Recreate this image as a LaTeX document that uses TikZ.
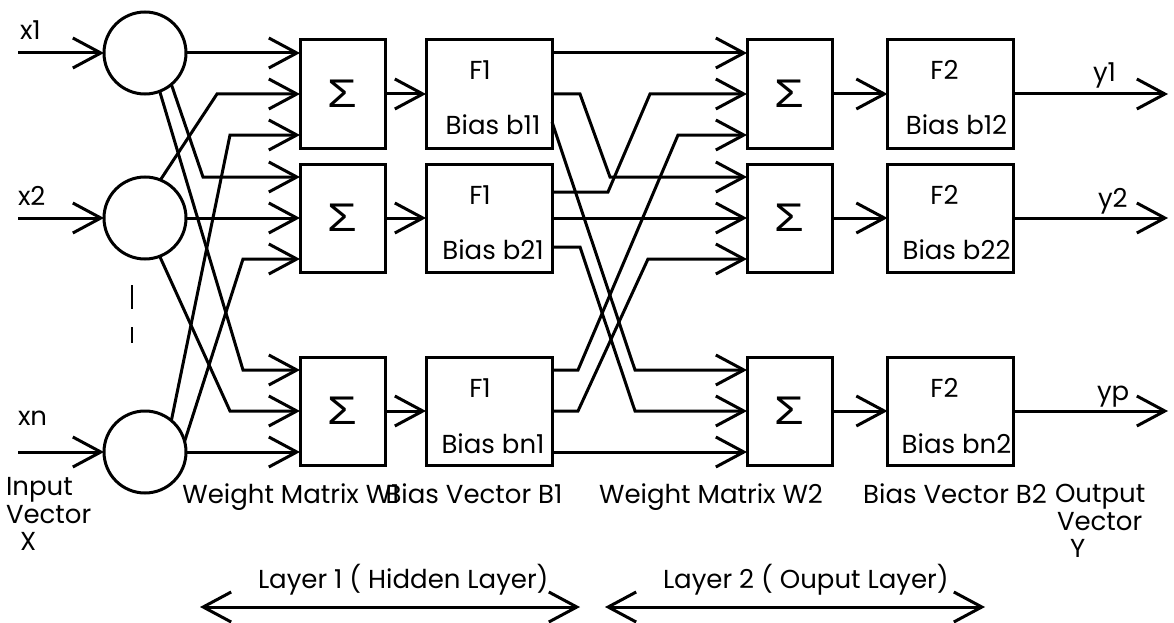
\documentclass[tikz,border=0pt]{standalone}
\usepackage{fontspec}
\setmainfont{Poppins}
\newfontfamily\sigmafont[FakeStretch=1.2]{Liberation Sans}
\usetikzlibrary{arrows.meta}
\begin{document}
\begin{tikzpicture}[x=1pt,y=-1pt,
  line width=3pt,
  every node/.style={inner sep=0pt, outer sep=0pt},
  txt/.style={font=\fontsize{26}{30}\selectfont},
  neuron/.style={draw, circle, minimum size=82pt},
  sumbox/.style={draw, rectangle, minimum width=85pt, minimum height=108pt, font=\sigmafont\fontsize{40}{40}\selectfont},
  fnbox/.style={draw, rectangle, minimum width=126pt, minimum height=108pt},
  arr/.style={-{Straight Barb[length=28pt,width=30pt,line width=3pt]}},
  darr/.style={{Straight Barb[length=28pt,width=30pt,line width=3pt]}-{Straight Barb[length=28pt,width=30pt,line width=3pt]}}
]
\useasboundingbox (0,0) rectangle (1174,623);

% input neurons
\node[neuron] (c1) at (145,53) {};
\node[neuron] (c2) at (145,218) {};
\node[neuron] (c3) at (145,452) {};

% layer 1
\node[sumbox] (s11) at (342.5,94) {Σ};
\node[sumbox] (s12) at (342.5,218) {Σ};
\node[sumbox] (s13) at (342.5,411) {Σ};
\node[fnbox] (f11) at (489,94) {};
\node[fnbox] (f12) at (489,218) {};
\node[fnbox] (f13) at (489,411) {};

% layer 2
\node[sumbox] (s21) at (789.5,94) {Σ};
\node[sumbox] (s22) at (789.5,218) {Σ};
\node[sumbox] (s23) at (789.5,411) {Σ};
\node[fnbox] (f21) at (950.5,94) {};
\node[fnbox] (f22) at (950.5,218) {};
\node[fnbox] (f23) at (950.5,411) {};

% box texts
\node[txt, anchor=base] (t11a) at ([xshift=-9pt,yshift=14pt]f11.center) {F1};
\node[txt, anchor=base] (t11b) at ([xshift=4pt,yshift=-41pt]f11.center) {Bias b11};
\node[txt, anchor=base] (t12a) at ([xshift=-9pt,yshift=14pt]f12.center) {F1};
\node[txt, anchor=base] (t12b) at ([xshift=4pt,yshift=-41pt]f12.center) {Bias b21};
\node[txt, anchor=base] (t13a) at ([xshift=-9pt,yshift=14pt]f13.center) {F1};
\node[txt, anchor=base] (t13b) at ([xshift=4pt,yshift=-42pt]f13.center) {Bias bn1};
\node[txt, anchor=base] (t21a) at ([xshift=-6pt,yshift=14pt]f21.center) {F2};
\node[txt, anchor=base] (t21b) at ([xshift=6pt,yshift=-41pt]f21.center) {Bias b12};
\node[txt, anchor=base] (t22a) at ([xshift=-6pt,yshift=14pt]f22.center) {F2};
\node[txt, anchor=base] (t22b) at ([xshift=6pt,yshift=-41pt]f22.center) {Bias b22};
\node[txt, anchor=base] (t23a) at ([xshift=-6pt,yshift=14pt]f23.center) {F2};
\node[txt, anchor=base] (t23b) at ([xshift=6pt,yshift=-42pt]f23.center) {Bias bn2};

% inputs
\coordinate (i1) at (18,53);
\coordinate (i2) at (18,218);
\coordinate (i3) at (18,452);
\draw[arr] (i1) -- (c1.west);
\draw[arr] (i2) -- (c2.west);
\draw[arr] (i3) -- (c3.west);
\node[txt, anchor=base west] (lx1) at (20,40) {x1};
\node[txt, anchor=base west] (lx2) at (18,205) {x2};
\node[txt, anchor=base west] (lxn) at (18,425) {xn};
\draw[line width=2.5pt] (132,285) -- (132,309);
\draw[line width=2.5pt] (132,327) -- (132,343);

% weights layer 1
\draw[arr] (c1.east) -- ([yshift=41pt]s11.west);
\draw[arr] (c1.-50) -- (203,177) -- ([yshift=41pt]s12.west);
\draw[arr] (c1.-69) -- (243,370) -- ([yshift=41pt]s13.west);
\draw[arr] (c2.68) -- (217,94) -- (s11.west);
\draw[arr] (c2.east) -- (s12.west);
\draw[arr] (c2.-69) -- (230,411) -- (s13.west);
\draw[arr] (c3.50) -- (230,135) -- ([yshift=-41pt]s11.west);
\draw[arr] (c3.15) -- (243,259) -- ([yshift=-41pt]s12.west);
\draw[arr] (c3.east) -- ([yshift=-41pt]s13.west);

\draw[arr] (s11) -- (f11);
\draw[arr] (s12) -- (f12);
\draw[arr] (s13) -- (f13);

% weights layer 2
\draw[arr] ([yshift=41pt]f11.east) -- ([yshift=41pt]s21.west);
\draw[arr] (f11.east) -- (580,94) -- (610,177) -- ([yshift=41pt]s22.west);
\draw[arr] ([yshift=-28pt]f11.east) -- (635,370) -- ([yshift=41pt]s23.west);
\draw[arr] ([yshift=26pt]f12.east) -- (608,192) -- (650,94) -- (s21.west);
\draw[arr] (f12.east) -- (s22.west);
\draw[arr] ([yshift=-29pt]f12.east) -- (580,247) -- (635,411) -- (s23.west);
\draw[arr] ([yshift=41pt]f13.east) -- (578,370) -- (678,135) -- ([yshift=-41pt]s21.west);
\draw[arr] (f13.east) -- (578,411) -- (648,259) -- ([yshift=-41pt]s22.west);
\draw[arr] ([yshift=-41pt]f13.east) -- ([yshift=-41pt]s23.west);

\draw[arr] (s21) -- (f21);
\draw[arr] (s22) -- (f22);
\draw[arr] (s23) -- (f23);

% outputs
\coordinate (o1) at (1168,94);
\coordinate (o2) at (1168,218);
\coordinate (o3) at (1168,411);
\draw[arr] (f21.east) -- (o1);
\draw[arr] (f22.east) -- (o2);
\draw[arr] (f23.east) -- (o3);
\node[txt, anchor=base west] (ly1) at (1093,82) {y1};
\node[txt, anchor=base west] (ly2) at (1098,207) {y2};
\node[txt, anchor=base west] (lyp) at (1097,400) {yp};

% bottom labels
\node[txt, anchor=base west] (lin1) at (6,495) {Input};
\node[txt, anchor=base west] (lin2) at (6,523) {Vector};
\node[txt, anchor=base west] (lin3) at (20,550) {X};
\node[txt, anchor=base] (lw1) at (291,503) {Weight Matrix W1};
\node[txt, anchor=base] (lb1) at (474,503) {Bias Vector B1};
\node[txt, anchor=base] (lw2) at (711,503) {Weight Matrix W2};
\node[txt, anchor=base] (lb2) at (955,503) {Bias Vector B2};
\node[txt, anchor=base west] (lout1) at (1055,502) {Output};
\node[txt, anchor=base west] (lout2) at (1057,530) {Vector};
\node[txt, anchor=base west] (lout3) at (1070,557) {Y};

% layer arrows
\coordinate (l1a) at (200,607);
\coordinate (l1b) at (580,607);
\coordinate (l2a) at (605,607);
\coordinate (l2b) at (985,607);
\draw[darr] (l1a) -- (l1b);
\draw[darr] (l2a) -- (l2b);
\node[txt, anchor=base west] (lay1) at (258,588) {Layer 1 ( Hidden Layer)};
\node[txt, anchor=base west] (lay2) at (663,588) {Layer 2 ( Ouput Layer)};
\end{tikzpicture}
\end{document}
